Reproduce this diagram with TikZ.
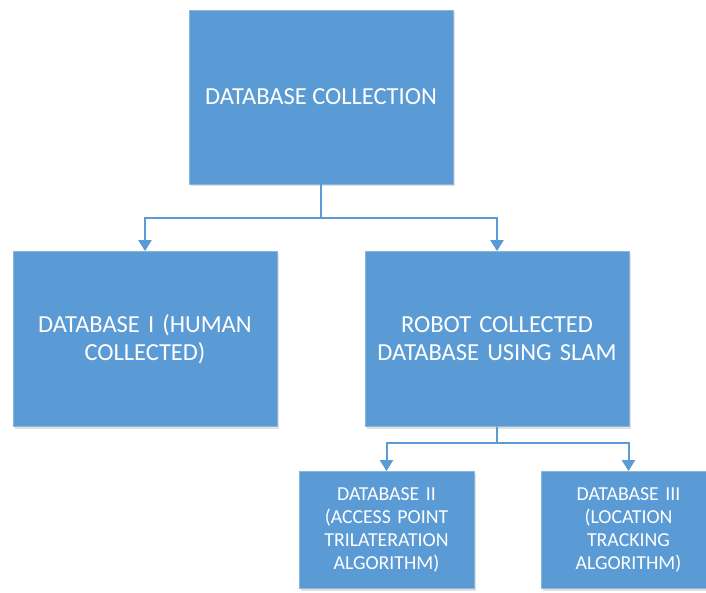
\documentclass[tikz,border=0pt]{standalone}
\usepackage{fontspec}
\setmainfont{Carlito}
\usetikzlibrary{arrows.meta,shadows}
\definecolor{boxblue}{HTML}{5B9BD5}
\definecolor{boxedge}{HTML}{8DB4DA}
\tikzset{
  box/.style={rectangle, fill=boxblue, draw=boxedge, line width=0.8pt, text=white, align=center, inner sep=4pt,
    drop shadow={shadow xshift=1.5pt, shadow yshift=-2pt, fill=black, opacity=0.12}},
  bigbox/.style={box, minimum width=264pt, minimum height=175pt, font=\fontsize{24.5}{28}\selectfont},
  smallbox/.style={box, minimum width=175pt, minimum height=117pt, font=\fontsize{19.8}{23}\selectfont},
  conn/.style={draw=boxblue, line width=2pt},
  arr/.style={conn, -{Triangle[width=13pt,length=11pt]}}
}
\begin{document}
\begin{tikzpicture}[x=1pt,y=-1pt]
\clip (0,0) rectangle (706,592);
\fill[white] (0,0) rectangle (706,592);
\node[bigbox, minimum height=174pt] (top) at (321,97) {DATABASE COLLECTION};
\node[bigbox, text width=250pt] (human) at (145,339) {DATABASE I (HUMAN\\COLLECTED)};
\node[bigbox, text width=250pt] (robot) at (497,339) {ROBOT COLLECTED\\DATABASE USING SLAM};
\node[smallbox, text width=165pt] (ap) at (386.5,530) {DATABASE II\\(ACCESS POINT\\TRILATERATION\\ALGORITHM)};
\node[smallbox, text width=165pt] (loc) at (628.5,530) {DATABASE III\\(LOCATION\\TRACKING\\ALGORITHM)};
\coordinate (j1) at (321,218);
\coordinate (j2) at (497,443);
\draw[conn] (top.south) -- (j1);
\draw[arr] (j1) -| (human.north);
\draw[arr] (j1) -| (robot.north);
\draw[conn] (robot.south) -- (j2);
\draw[arr] (j2) -| (ap.north);
\draw[arr] (j2) -| (loc.north);
\end{tikzpicture}
\end{document}
